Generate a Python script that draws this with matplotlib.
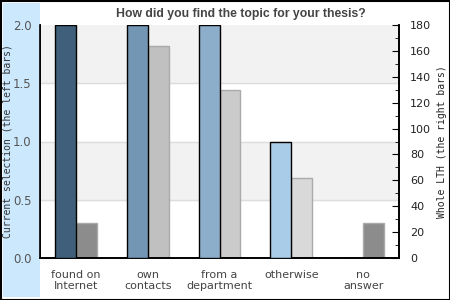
import numpy as np
import matplotlib.pyplot as plt
from matplotlib.patches import Rectangle

categories = ['found on\nInternet', 'own\ncontacts', 'from a\ndepartment', 'otherwise', 'no\nanswer']
current = [2, 2, 2, 1, 0]
whole = [27, 164, 130, 62, 27]
left_colors = ['#3f5f7a', '#7396b4', '#8daecb', '#a9cde9', '#c6def2']
right_colors = ['#8c8c8c', '#c0c0c0', '#cbcbcb', '#d9d9d9', '#8c8c8c']

fig = plt.figure(figsize=(4.5, 3), dpi=100)
# light blue strip on the left and black frame
fig.patches.append(Rectangle((3/450, 3/300), 37/450, 294/300, transform=fig.transFigure,
                             facecolor='#cce8fd', edgecolor='none', zorder=0))
fig.patches.append(Rectangle((0.5/450, 0.5/300), 449/450, 299/300, transform=fig.transFigure,
                             facecolor='none', edgecolor='black', lw=1.5, zorder=5))

ax = fig.add_axes([40/450, 42/300, 359/450, 233/300])
ax2 = ax.twinx()
x = np.arange(len(categories))
w = 0.29

ax.set_xlim(-0.5, 4.5)
ax.set_ylim(0, 2.0)
ax2.set_ylim(0, 180)

# background bands and grid on the lower (right-axis) layer
for lo in [45, 135]:
    ax2.axhspan(lo, lo + 45, color='#f2f2f2', zorder=0)
for y in [45, 90, 135]:
    ax2.axhline(y, color='#dddddd', lw=1, zorder=0.5)
ax2.bar(x + w/2, whole, w, color=right_colors, edgecolor='#aaaaaa', lw=1, zorder=2)

ax.bar(x - w/2, current, w, color=left_colors, edgecolor='black', lw=1, zorder=3)

ax.set_xticks(x)
ax.set_xticklabels(categories, fontsize=8, color='#444444', linespacing=1.1)
ax.tick_params(axis='x', length=0, pad=9)
ax.set_yticks([0, 0.5, 1.0, 1.5, 2.0])
ax.set_yticklabels(['0.0', '0.5', '1.0', '1.5', '2.0'])
ax.tick_params(axis='y', length=0, labelsize=8.5, labelcolor='#555555', pad=6)
ax.set_ylabel('Current selection (the left bars)', family='monospace', fontsize=7,
              color='#333333')
ax.yaxis.set_label_coords(-27/359, 0.5)

ax2.set_yticks(np.arange(0, 181, 20))
ax2.set_yticks(np.arange(10, 180, 20), minor=True)
ax2.tick_params(axis='y', which='major', length=5, labelsize=8, labelcolor='#222222', direction='in', pad=8)
ax2.tick_params(axis='y', which='minor', length=3, direction='in')
ax2.set_ylabel('Whole LTH (the right bars)', family='monospace', fontsize=7,
               color='#222222')
ax2.yaxis.set_label_coords(1 + 38/359, 0.5)

for a in (ax, ax2):
    a.spines['top'].set_visible(False)
    for s in ('left', 'bottom', 'right'):
        a.spines[s].set_color('black')
        a.spines[s].set_linewidth(1.2)
# left bars drawn above right bars
ax.set_zorder(ax2.zorder + 1)
ax.patch.set_visible(False)
ax2.patch.set_facecolor('white')

fig.suptitle('How did you find the topic for your thesis?', x=241/450, y=0.975,
             fontsize=8.8, fontweight='bold', color='#444444', family='Liberation Sans')

fig.savefig('out.png', dpi=100)
